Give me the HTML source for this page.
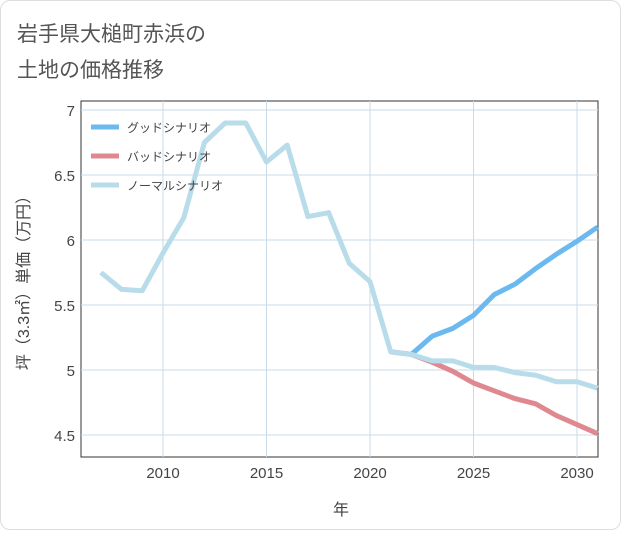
<!DOCTYPE html>
<html><head><meta charset="utf-8"><style>
body{margin:0;background:#fff;font-family:"Liberation Sans","Noto Sans CJK JP",sans-serif;}
#card{position:absolute;left:0;top:0;width:619px;height:528px;border:1px solid #ddd;border-radius:10px;background:#fff;}
</style></head><body>
<div id="card">
<svg width="621" height="530">
<text x="16" y="40" font-size="21" fill="#555">岩手県大槌町赤浜の</text>
<text x="16" y="76" font-size="21" fill="#555">土地の価格推移</text>
<rect x="80" y="100" width="517" height="356" fill="none" stroke="#333" stroke-width="1"/>
<g id="grid"></g><g id="lines"></g><g id="legend"></g>
<text x="340" y="514" font-size="16" fill="#444" text-anchor="middle">年</text>
<text transform="translate(28,278) rotate(-90)" font-size="16" fill="#444" text-anchor="middle">坪（3.3㎡）単価（万円）</text>
</svg></div>
<script>
const years=[2007,2008,2009,2010,2011,2012,2013,2014,2015,2016,2017,2018,2019,2020,2021,2022,2023,2024,2025,2026,2027,2028,2029,2030,2031];
const normal=[5.75,5.62,5.61,5.9,6.17,6.75,6.9,6.9,6.6,6.73,6.18,6.21,5.82,5.68,5.14,5.12,5.07,5.07,5.02,5.02,4.98,4.96,4.91,4.91,4.86];
const futYears=[2021,2022,2023,2024,2025,2026,2027,2028,2029,2030,2031];
const good=[5.14,5.12,5.26,5.32,5.42,5.58,5.66,5.78,5.89,5.99,6.1];
const bad=[5.14,5.12,5.06,4.99,4.9,4.84,4.78,4.74,4.65,4.58,4.51];
const xTicks=[2010,2015,2020,2025,2030];
const yTicks=[4.5,5,5.5,6,6.5,7];
const X=y=>162+(y-2010)*20.7;
const Y=v=>369-(v-5)*130;
const NS="http://www.w3.org/2000/svg";
function mk(t,a,p){const e=document.createElementNS(NS,t);for(const k in a)e.setAttribute(k,a[k]);p.appendChild(e);return e;}
const g=document.getElementById('grid');
xTicks.forEach(t=>{const l=mk('line',{x1:X(t),x2:X(t),y1:100,y2:456,stroke:'#c9dbe8'},g);


const tx=mk('text',{x:X(t),y:477,'font-size':15,fill:'#444','text-anchor':'middle'},g);tx.textContent=t;

});
yTicks.forEach(t=>{const l=mk('line',{x1:80,x2:597,y1:Y(t),y2:Y(t),stroke:'#c9dbe8'},g);


const tx=mk('text',{x:74,y:Y(t)+6,'font-size':15,fill:'#444','text-anchor':'end'},g);tx.textContent=t;

});
const L=document.getElementById('lines');
function series(xs,vs,c,name){const p=mk('polyline',{points:xs.map((x,i)=>X(x)+','+Y(vs[i])).join(' '),fill:'none',stroke:c,'stroke-width':5,'stroke-linejoin':'round'},L);

}
series(futYears,good,'#6bb9ef','good-scenario-line');
series(futYears,bad,'#e08890','bad-scenario-line');
series(years,normal,'#b9dcea','normal-scenario-line');
const lg=document.getElementById('legend');
[['グッドシナリオ','#6bb9ef'],['バッドシナリオ','#e08890'],['ノーマルシナリオ','#b9dcea']].forEach((d,i)=>{
const y=126+i*29;
const l=mk('line',{x1:90,x2:118,y1:y,y2:y,stroke:d[1],'stroke-width':5},lg);


const t=mk('text',{x:126,y:y+5,'font-size':12,fill:'#444'},lg);t.textContent=d[0];

});
</script>
</body></html>
